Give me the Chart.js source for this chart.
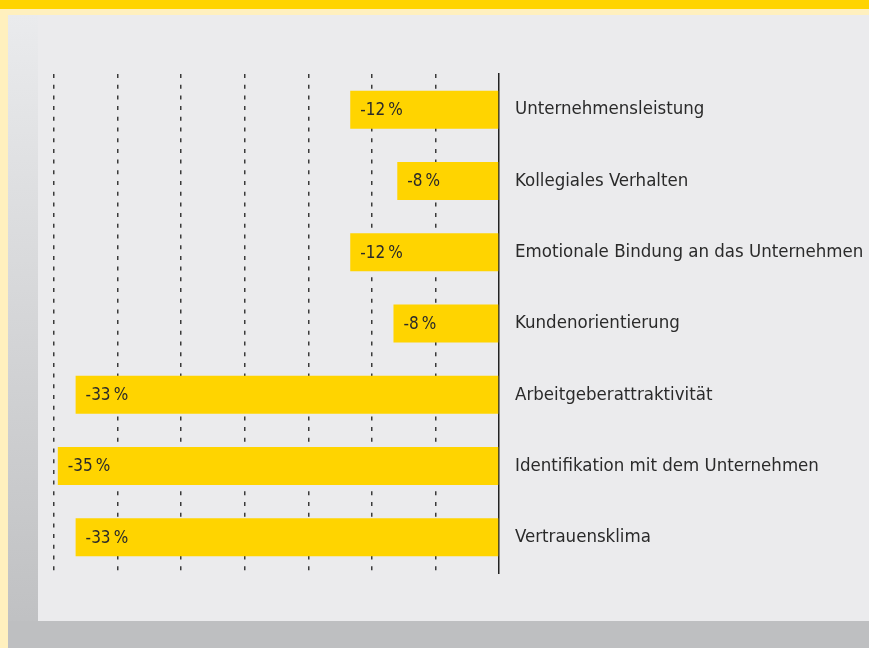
<!DOCTYPE html>
<html>
<head>
<meta charset="utf-8">
<script src="https://cdn.jsdelivr.net/npm/chart.js@4/dist/chart.umd.min.js"></script>
<style>
  html, body { margin: 0; padding: 0; width: 869px; height: 648px; overflow: hidden; background: #FFF0BE; }
  #banner { position: absolute; left: 0; top: 0; width: 869px; height: 9px; background: #FFD400; }
  #frame { position: absolute; left: 8px; top: 15px; width: 861px; height: 633px;
           background: linear-gradient(to bottom, #EAEBED 0%, #D4D5D7 50%, #BEBFC1 100%); }
  #frame2 { position: absolute; left: 8px; top: 621px; width: 861px; height: 27px; background: #BEBFC1; }
  #panel { position: absolute; left: 38px; top: 15px; width: 831px; height: 606px; background: #EBEBED; }
  #wrap { position: absolute; left: 0; top: 0; width: 869px; height: 648px; }
</style>
</head>
<body>
<div id="banner"></div>
<div id="frame"></div>
<div id="frame2"></div>
<div id="panel"></div>
<div id="wrap"><canvas id="c" width="869" height="648"></canvas></div>
<script>
const categories = [
  'Unternehmensleistung',
  'Kollegiales Verhalten',
  'Emotionale Bindung an das Unternehmen',
  'Kundenorientierung',
  'Arbeitgeberattraktivität',
  'Identifikation mit dem Unternehmen',
  'Vertrauensklima'
];
const values = [-11.7, -8.0, -11.7, -8.3, -33.3, -34.7, -33.3];
const xTicks = [-35, -30, -25, -20, -15, -10, -5, 0];

const FONT = "'DejaVu Sans Condensed', 'Liberation Sans Narrow', sans-serif";

const valueLabels = {
  id: 'valueLabels',
  afterDatasetsDraw(chart) {
    const ctx = chart.ctx;
    const meta = chart.getDatasetMeta(0);
    ctx.save();
    ctx.font = "17px " + FONT;
    ctx.fillStyle = '#2a2a2a';
    ctx.textAlign = 'left';
    ctx.textBaseline = 'middle';
    meta.data.forEach((bar, i) => {
      const v = chart.data.datasets[0].data[i];
      ctx.fillText(Math.round(v) + '\u2009%', bar.x + 10, bar.y + 1);
    });
    ctx.restore();
  }
};

new Chart(document.getElementById('c'), {
  type: 'bar',
  data: {
    labels: categories,
    datasets: [{
      data: values,
      backgroundColor: '#FFD400',
      borderWidth: 0,
      barPercentage: 0.533,
      categoryPercentage: 1
    }]
  },
  options: {
    indexAxis: 'y',
    responsive: false,
    animation: false,
    devicePixelRatio: 1,
    layout: { padding: { left: 54, top: 74, bottom: 75, right: 0 } },
    plugins: { legend: { display: false }, tooltip: { enabled: false }, title: { display: false } },
    scales: {
      x: {
        type: 'linear',
        min: xTicks[0],
        max: xTicks[xTicks.length - 1],
        afterBuildTicks: (axis) => { axis.ticks = xTicks.map(v => ({ value: v })); },
        ticks: { display: false },
        grid: {
          color: (c) => c.tick && c.tick.value === 0 ? 'rgba(0,0,0,0)' : '#3a3a3a',
          lineWidth: 1.5,
          drawTicks: false
        },
        border: { display: false, dash: [4, 6.7] },
        afterFit: (axis) => { axis.height = 0; }
      },
      y: {
        position: 'right',
        grid: { display: false, drawTicks: false },
        border: { display: true, color: '#222222', width: 1.5 },
        ticks: { color: '#2a2a2a', font: { family: FONT, size: 18.5 }, padding: 16 },
        afterFit: (axis) => { axis.width = 370; }
      }
    }
  },
  plugins: [valueLabels]
});
</script>
</body>
</html>
